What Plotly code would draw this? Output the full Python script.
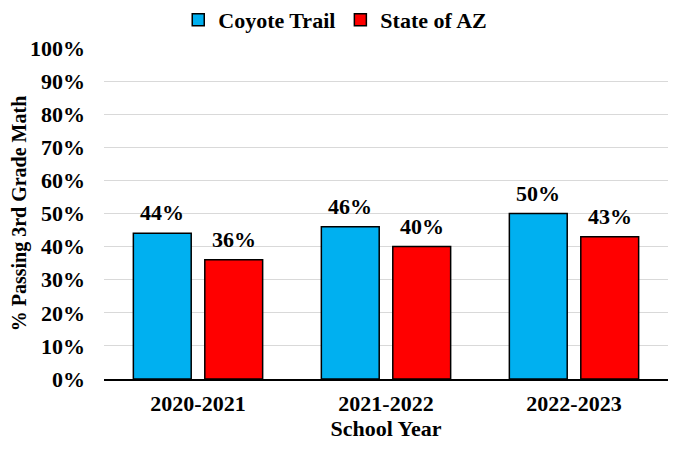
import plotly.graph_objects as go

years = ["2020-2021", "2021-2022", "2022-2023"]
coyote = [44, 46, 50]
state = [36, 40, 43]
series_names = ["Coyote Trail", "State of AZ"]
tick_vals = [0, 10, 20, 30, 40, 50, 60, 70, 80, 90, 100]
tick_text = [f"{v}%" for v in tick_vals]

FONT = "Liberation Serif"
BARGAP = 0.24
colors = ["#00B0F0", "#FF0000"]

fig = go.Figure()
for name, vals, col in zip(series_names, [coyote, state], colors):
    fig.add_trace(go.Bar(
        x=years, y=vals, name=f"<b>{name}</b>",
        marker=dict(color=col, line=dict(color="black", width=1.5)),
    ))

off = (1 - BARGAP) / 4
for k, vals in enumerate([coyote, state]):
    for i, v in enumerate(vals):
        fig.add_annotation(
            x=i + (-off if k == 0 else off), y=v, xref="x", yref="y",
            text=f"<b>{v}%</b>", showarrow=False, yanchor="bottom", yshift=6,
            font=dict(family=FONT, size=22, color="black"),
        )

fig.update_layout(
    width=679, height=450,
    margin=dict(l=96, r=19, t=40, b=79, autoexpand=False),
    paper_bgcolor="white", plot_bgcolor="white",
    barmode="group", bargap=BARGAP, bargroupgap=0.19,
    font=dict(family=FONT, size=22, color="black"),
    legend=dict(orientation="h", x=0.41, xanchor="center", y=1.148, yanchor="top",
                font=dict(family=FONT, size=22, color="black"),
                itemwidth=30, tracegroupgap=0),
    showlegend=True,
)
fig.update_xaxes(
    automargin=False,
    showline=True, linecolor="black", linewidth=2, ticks="",
    tickfont=dict(family=FONT, size=22, color="black"),
    tickprefix="<b>", ticksuffix="</b>", ticklabelstandoff=4,
    title=dict(text="<b>School Year</b>", font=dict(family=FONT, size=22, color="black"), standoff=5),
)
fig.update_yaxes(
    automargin=False,
    range=[0, 100], tickvals=tick_vals, ticktext=[f"<b>{t}</b>" for t in tick_text],
    showgrid=True, gridcolor="#D9D9D9", gridwidth=1, zeroline=False, showline=False,
    tickfont=dict(family=FONT, size=22, color="black"), ticklabelstandoff=18,
    title=dict(text="<b>% Passing 3rd Grade Math</b>", font=dict(family=FONT, size=20, color="black"), standoff=4),
)
fig.write_html("out.html")
